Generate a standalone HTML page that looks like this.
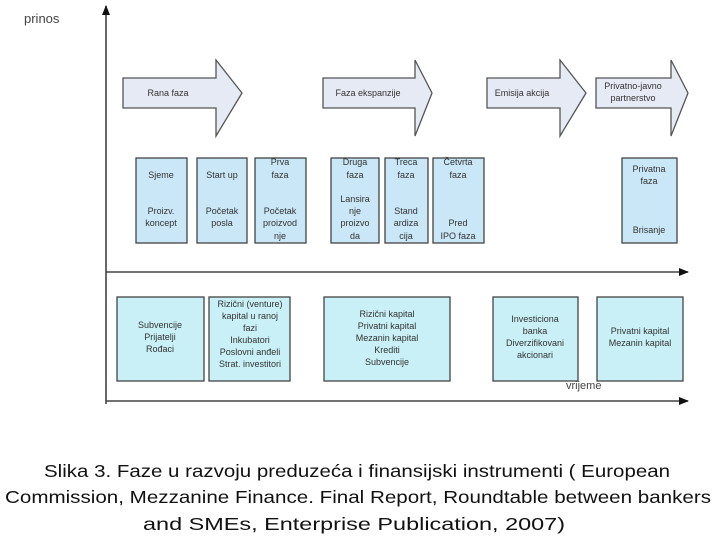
<!DOCTYPE html>
<html><head><meta charset="utf-8"><style>
html,body{margin:0;padding:0;background:#fff;width:716px;height:543px;overflow:hidden}
svg{display:block}
text{font-family:"Liberation Sans",Arial,sans-serif;fill:#333}
.s{font-size:9px;text-anchor:middle}
.c{font-size:17.5px;text-anchor:middle;fill:#111}
</style></head><body>
<svg width="716" height="543" viewBox="0 0 716 543">
<defs><marker id="ah" markerWidth="10" markerHeight="10" refX="9" refY="5" orient="auto" markerUnits="userSpaceOnUse"><path d="M0,1 L10,5 L0,9 Z" fill="#111"/></marker></defs>
<!-- axes -->
<line x1="106" y1="404" x2="106" y2="6" stroke="#444" stroke-width="1.6" marker-end="url(#ah)"/>
<line x1="106" y1="272" x2="688" y2="272" stroke="#444" stroke-width="1.6" marker-end="url(#ah)"/>
<line x1="106" y1="401" x2="688" y2="401" stroke="#444" stroke-width="1.6" marker-end="url(#ah)"/>
<text x="24" y="23" style="font-size:13px;fill:#444">prinos</text>
<text x="566" y="389" style="font-size:11px;fill:#444">vrijeme</text>
<!-- big arrows -->
<g fill="#e6eaf5" stroke="#555" stroke-width="1.3">
<path d="M123,78 H216 V60 L242,93 L216,136 V108 H123 Z"/>
<path d="M323,78 H415 V60 L432,93 L415,136 V108 H323 Z"/>
<path d="M487,78 H560 V60 L586,93 L560,136 V108 H487 Z"/>
<path d="M596,78 H671 V60 L688,93 L671,136 V108 H596 Z"/>
</g>
<text class="s" x="168" y="96">Rana faza</text>
<text class="s" x="368" y="96">Faza ekspanzije</text>
<text class="s" x="522" y="96">Emisija akcija</text>
<text class="s" x="633" y="89">Privatno-javno</text>
<text class="s" x="633" y="101">partnerstvo</text>
<!-- top boxes -->
<g fill="#c9e7f7" stroke="#444" stroke-width="1.3">
<rect x="136" y="158" width="51" height="85"/>
<rect x="197" y="158" width="50" height="85"/>
<rect x="255" y="158" width="51" height="85"/>
<rect x="331" y="158" width="48" height="85"/>
<rect x="385" y="158" width="43" height="85"/>
<rect x="433" y="158" width="51" height="85"/>
<rect x="622" y="158" width="55" height="85"/>
</g>
<text class="s" x="161" y="178">Sjeme</text>
<text class="s" x="161" y="214">Proizv.</text>
<text class="s" x="161" y="226">koncept</text>
<text class="s" x="222" y="178">Start up</text>
<text class="s" x="222" y="214">Početak</text>
<text class="s" x="222" y="226">posla</text>
<text class="s" x="280" y="165">Prva</text>
<text class="s" x="280" y="178">faza</text>
<text class="s" x="280" y="214">Početak</text>
<text class="s" x="280" y="226">proizvod</text>
<text class="s" x="280" y="239">nje</text>
<text class="s" x="355" y="165">Druga</text>
<text class="s" x="355" y="178">faza</text>
<text class="s" x="355" y="202">Lansira</text>
<text class="s" x="355" y="214">nje</text>
<text class="s" x="355" y="226">proizvo</text>
<text class="s" x="355" y="239">da</text>
<text class="s" x="406" y="165">Treca</text>
<text class="s" x="406" y="178">faza</text>
<text class="s" x="406" y="214">Stand</text>
<text class="s" x="406" y="226">ardiza</text>
<text class="s" x="406" y="239">cija</text>
<text class="s" x="458" y="165">Četvrta</text>
<text class="s" x="458" y="178">faza</text>
<text class="s" x="458" y="226">Pred</text>
<text class="s" x="458" y="239">IPO faza</text>
<text class="s" x="649" y="172">Privatna</text>
<text class="s" x="649" y="184">faza</text>
<text class="s" x="649" y="233">Brisanje</text>
<!-- bottom boxes -->
<g fill="#c8f0f6" stroke="#444" stroke-width="1.3">
<rect x="117" y="297" width="87" height="84"/>
<rect x="209" y="297" width="81" height="84"/>
<rect x="324" y="297" width="126" height="84"/>
<rect x="493" y="297" width="85" height="84"/>
<rect x="597" y="297" width="86" height="84"/>
</g>
<text class="s" x="160" y="328">Subvencije</text>
<text class="s" x="160" y="340">Prijatelji</text>
<text class="s" x="160" y="352">Rođaci</text>
<text class="s" x="250" y="307">Rizični (venture)</text>
<text class="s" x="250" y="319">kapital u ranoj</text>
<text class="s" x="250" y="331">fazi</text>
<text class="s" x="250" y="343">Inkubatori</text>
<text class="s" x="250" y="355">Poslovni anđeli</text>
<text class="s" x="250" y="367">Strat. investitori</text>
<text class="s" x="387" y="317">Rizični kapital</text>
<text class="s" x="387" y="329">Privatni kapital</text>
<text class="s" x="387" y="341">Mezanin kapital</text>
<text class="s" x="387" y="353">Krediti</text>
<text class="s" x="387" y="365">Subvencije</text>
<text class="s" x="535" y="322">Investiciona</text>
<text class="s" x="535" y="334">banka</text>
<text class="s" x="535" y="346">Diverzifikovani</text>
<text class="s" x="535" y="358">akcionari</text>
<text class="s" x="640" y="334">Privatni kapital</text>
<text class="s" x="640" y="346">Mezanin kapital</text>
<!-- caption -->
<text class="c" x="357" y="477" textLength="626" lengthAdjust="spacingAndGlyphs">Slika 3. Faze u razvoju preduzeća i finansijski instrumenti ( European</text>
<text class="c" x="358" y="503" textLength="706" lengthAdjust="spacingAndGlyphs">Commission, Mezzanine Finance. Final Report, Roundtable between bankers</text>
<text class="c" x="354" y="530" textLength="422" lengthAdjust="spacingAndGlyphs">and SMEs, Enterprise Publication, 2007)</text>
</svg>
</body></html>
